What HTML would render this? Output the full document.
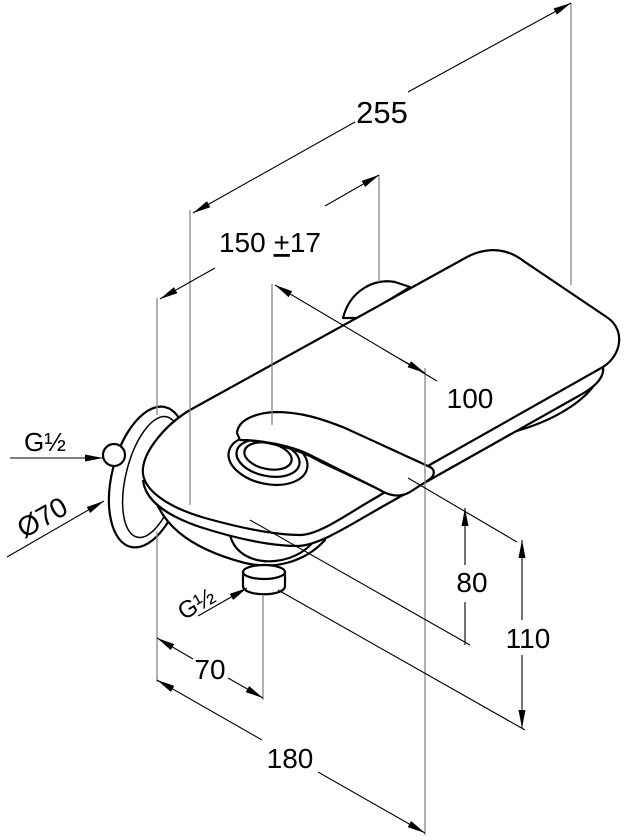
<!DOCTYPE html>
<html><head><meta charset="utf-8"><style>
html,body{margin:0;padding:0;background:#fff;}
svg{display:block;}
text{font-family:"Liberation Sans",sans-serif;fill:#000;}
</style></head><body>
<svg width="634" height="840" viewBox="0 0 634 840" xmlns="http://www.w3.org/2000/svg">
<defs>
<marker id="a" viewBox="0 0 18 7" refX="18" refY="3.5" markerWidth="18" markerHeight="7" markerUnits="userSpaceOnUse" orient="auto"><path d="M0,0L18,3.5L0,7z" fill="#000"/></marker>
<marker id="s" viewBox="0 0 18 7" refX="0" refY="3.5" markerWidth="18" markerHeight="7" markerUnits="userSpaceOnUse" orient="auto"><path d="M18,0L0,3.5L18,7z" fill="#000"/></marker>
</defs>
<!-- faucet body -->
<g stroke="#000" stroke-width="2.2" fill="#fff" stroke-linejoin="round">
<!-- back flange -->
<path d="M343,318 C350,290 375,278 395,282 L410,287 L360,318 Z"/>
<!-- right underside -->
<path d="M600,372 C595,395 560,418 520,430 L495,438 L480,432 Z"/>
<!-- left flange -->
<ellipse cx="148" cy="477" rx="36" ry="72" transform="rotate(14 148 477)"/>
<ellipse cx="152" cy="477" rx="26" ry="62" transform="rotate(14 152 477)" fill="none" stroke-width="1.5"/>
<circle cx="114" cy="455" r="11"/>
<!-- body under plate -->
<path d="M150,470 C150,525 195,550 245,563 C275,570 305,562 325,540 L220,515 Z"/>
<!-- bottom bell -->
<path d="M230,535 C235,555 255,563 275,561 C295,559 310,549 318,535 Z"/>
<!-- outlet -->
<path d="M243,572 L243,586 C243,597 285,597 285,586 L285,572"/>
<ellipse cx="264" cy="572" rx="21" ry="7"/>
<!-- plate thickness -->
<path d="M603,367 C605,380 590,390 575,398 L433,478 L380,508 C350,525 320,545 298,546 C265,546 225,535 200,527 C165,515 145,500 143,480" />
<!-- top plate -->
<path d="M190,410 L467,257 C490,245 510,250 525,262 L608,318 C625,330 622,355 603,367 L433,463 L377,497 C350,512 320,535 300,535 C270,535 230,525 205,518 C170,508 140,490 143,468 C145,450 165,425 190,410 Z"/>
<!-- knob ring -->
<ellipse cx="268" cy="460" rx="40" ry="24" transform="rotate(12 268 460)"/>
<ellipse cx="268" cy="458" rx="32" ry="18" transform="rotate(12 268 458)"/>
<ellipse cx="268" cy="456" rx="24" ry="13" transform="rotate(12 268 456)"/>
<!-- lever -->
<path d="M237,433 C238,420 255,413 275,412 C300,412 320,418 345,428 L430,467 C436,470 434,476 430,479 L410,492 C400,498 390,496 380,490 L310,455 C290,445 260,440 240,440 Z"/>
<path d="M240,440 C270,442 300,450 320,462 L388,494" fill="none" stroke-width="1.3"/>
</g>
<!-- extension lines (grey) -->
<g stroke="#888" stroke-width="1.3" fill="none">
<line x1="571" y1="3" x2="571" y2="285"/>
<line x1="379" y1="175" x2="379" y2="282"/>
<line x1="190" y1="210" x2="190" y2="505"/>
<line x1="157" y1="298" x2="157" y2="415"/>
<line x1="157" y1="532" x2="157" y2="682"/>
<line x1="272" y1="284" x2="272" y2="425"/>
<line x1="425" y1="368" x2="425" y2="835"/>
<line x1="263" y1="596" x2="263" y2="700"/>
</g>
<g stroke="#000" stroke-width="1.1" fill="none">
<!-- 255 -->
<line x1="193" y1="213" x2="355" y2="122" marker-start="url(#s)"/>
<line x1="408" y1="92" x2="571" y2="3" marker-end="url(#a)"/>
<!-- 150 -->
<line x1="160" y1="299" x2="215" y2="268" marker-start="url(#s)"/>
<line x1="325" y1="206" x2="379" y2="175" marker-end="url(#a)"/>
<!-- 100 -->
<line x1="275" y1="285" x2="437" y2="381" marker-start="url(#s)"/>
<line x1="400" y1="359" x2="425" y2="373" marker-end="url(#a)"/>
<!-- 80 -->
<line x1="408" y1="478" x2="517" y2="542"/>
<line x1="465" y1="508" x2="465" y2="565" marker-start="url(#s)"/>
<line x1="465" y1="602" x2="465" y2="645"/>
<line x1="250" y1="520" x2="470" y2="645"/>
<!-- 110 -->
<line x1="522" y1="540" x2="522" y2="620" marker-start="url(#s)"/>
<line x1="522" y1="655" x2="522" y2="728" marker-end="url(#a)"/>
<line x1="278" y1="590" x2="525" y2="730"/>
<!-- 70 -->
<line x1="157" y1="638" x2="193" y2="659" marker-start="url(#s)"/>
<line x1="228" y1="678" x2="263" y2="698" marker-end="url(#a)"/>
<!-- 180 -->
<line x1="157" y1="680" x2="262" y2="740" marker-start="url(#s)"/>
<line x1="318" y1="772" x2="425" y2="833" marker-end="url(#a)"/>
<!-- G1/2 left -->
<line x1="10" y1="458" x2="103" y2="458" marker-end="url(#a)"/>
<!-- O70 -->
<line x1="7" y1="557" x2="104" y2="501" marker-end="url(#a)"/>
<!-- G1/2 lower -->
<line x1="198" y1="616" x2="247" y2="588" marker-end="url(#a)"/>
</g>
<!-- labels -->
<text x="382" y="123" font-size="31" text-anchor="middle">255</text>
<text x="270" y="252" font-size="28" text-anchor="middle">150 <tspan text-decoration="underline">+</tspan>17</text>
<text x="470" y="408" font-size="28" text-anchor="middle">100</text>
<text x="472" y="592" font-size="28" text-anchor="middle">80</text>
<text x="528" y="648" font-size="28" text-anchor="middle">110</text>
<text x="210" y="679" font-size="28" text-anchor="middle">70</text>
<text x="290" y="768" font-size="28" text-anchor="middle">180</text>
<text x="24" y="451" font-size="26">G½</text>
<text x="42" y="527" font-size="28" text-anchor="middle" transform="rotate(-30 42 517)">Ø70</text>
<text x="196" y="612" font-size="24" text-anchor="middle" transform="rotate(-30 196 603)">G½</text>
</svg>
</body></html>
